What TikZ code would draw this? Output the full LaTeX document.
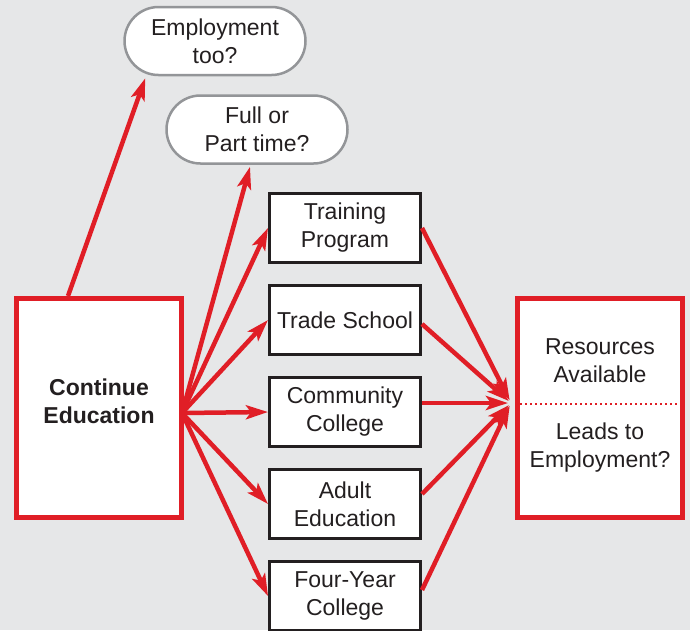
\documentclass[tikz,border=0pt]{standalone}
\usepackage{fontspec}
\setmainfont{Liberation Sans}
\usetikzlibrary{
  arrows.meta,
  positioning,
  calc,
}
\definecolor{bggray}{RGB}{230,231,232}
\definecolor{pathred}{RGB}{224,30,38}
\definecolor{ink}{RGB}{35,31,32}
\definecolor{ovalgray}{RGB}{147,149,152}
\tikzset{
  option/.style={
    rectangle,
    minimum width=151pt,
    minimum height=69pt,
    inner sep=2pt,
    align=center,
    text=ink,
    line width=3pt,
    draw=ink,
    fill=white
  },
  bigbox/.style={
    rectangle,
    minimum width=165pt,
    minimum height=219pt,
    align=center,
    text=ink,
    line width=5pt,
    draw=pathred,
    fill=white
  },
  question/.style={
    rectangle,
    rounded corners=34pt,
    minimum width=181pt,
    minimum height=68pt,
    align=center,
    text=ink,
    line width=2.5pt,
    draw=ovalgray,
    fill=white
  },
  txt/.style={
    align=center,
    text=ink,
  },
  arrow/.style={
    draw=pathred,
    line width=4.5pt,
    -{Stealth[length=22pt,width=14pt,inset=5pt]},
  },
}

\begin{document}
\begin{tikzpicture}[x=1pt, y=-1pt, node distance=20pt,
  font=\fontsize{23}{28}\selectfont]

  \path[use as bounding box, fill=bggray] (0,0) rectangle (690,630);

  % start and goal
  \node[bigbox] (educ) at (99,408) {};
  \node[txt, font=\fontsize{23}{28}\selectfont\bfseries] (cont) at (99,401) {Continue\\Education};
  \node[bigbox] (res) at (600,408) {};
  \node[txt] (avail) at (600,361) {Resources\\Available};
  \node[txt] (leads) at (600,448) {Leads to\\Employment?};
  \draw[pathred, line width=2pt, dash pattern=on 2pt off 3pt]
    ($(res.west)+(5,-4)$) -- ($(res.east)+(-5,-4)$);

  % questions
  \node[question] (emp) at (215,41) {Employment\\too?};
  \node[question] (hours) at (257,129.5) {Full or\\Part time?};

  % options
  \node[option] (train) at (345,228) {Training\\Program};
  \node[option, below=of train] (trade) {Trade School};
  \node[option, below=of trade] (comm) {Community\\College};
  \node[option, below=of comm] (adult) {Adult\\Education};
  \node[option, below=of adult] (four) {Four-Year\\College};

  \coordinate (fan) at ($(educ.east)+(-2,5)$);
  \coordinate (sink) at ($(res.west)+(-4,-5)$);

  \draw[arrow] ($(educ.north)+(-31,0)$) -- ($(emp.south west)+(22,2)$);
  \draw[arrow] (fan) -- ($(hours.south)+(-7,2)$);
  \draw[arrow] (fan) -- (train.west);
  \draw[arrow] (fan) -- (trade.west);
  \draw[arrow] (fan) -- (comm.west);
  \draw[arrow] (fan) -- (adult.west);
  \draw[arrow] (fan) -- (four.west);

  \draw[arrow, shorten >=3pt] (train.east) -- (sink);
  \draw[arrow, shorten >=3pt] ($(trade.east)+(0,4)$) -- (sink);
  \draw[arrow, shorten >=3pt] ($(comm.east)+(0,-9)$) -- (sink);
  \draw[arrow, shorten >=3pt] ($(adult.east)+(0,-10)$) -- (sink);
  \draw[arrow, shorten >=3pt] ($(four.east)+(0,-6)$) -- (sink);

\end{tikzpicture}
\end{document}
